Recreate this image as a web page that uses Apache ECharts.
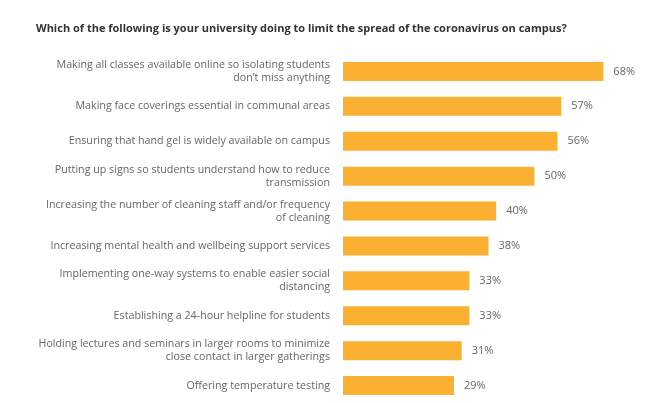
<!DOCTYPE html>
<html><head><meta charset="utf-8">
<script src="https://cdn.jsdelivr.net/npm/echarts@6/dist/echarts.min.js"></script>
<style>html,body{margin:0;padding:0;background:#fff}#c{width:655px;height:403px}</style>
</head><body><div id="c"></div>
<script>
var titleText = 'Which of the following is your university doing to limit the spread of the coronavirus on campus?';
var categories = [
  'Making all classes available online so isolating students\ndon\u2019t miss anything',
  'Making face coverings essential in communal areas',
  'Ensuring that hand gel is widely available on campus',
  'Putting up signs so students understand how to reduce\ntransmission',
  'Increasing the number of cleaning staff and/or frequency\nof cleaning',
  'Increasing mental health and wellbeing support services',
  'Implementing one-way systems to enable easier social\ndistancing',
  'Establishing a 24-hour helpline for students',
  'Holding lectures and seminars in larger rooms to minimize\nclose contact in larger gatherings',
  'Offering temperature testing'
];
var values = [68, 57, 56, 50, 40, 38, 33, 33, 31, 29];
var chart = echarts.init(document.getElementById('c'));
chart.setOption({
  animation: false,
  title: {
    text: titleText, left: 31, top: 18,
    textStyle: {fontFamily: 'Open Sans', fontSize: 11, fontWeight: 'bold', color: '#333'}
  },
  grid: {left: 343, top: 54, height: 350, right: 44},
  xAxis: {type: 'value', min: 0, max: 70, show: false},
  yAxis: {
    type: 'category', data: categories, inverse: true,
    axisLine: {show: false}, axisTick: {show: false},
    axisLabel: {margin: 13, fontFamily: 'Open Sans', fontSize: 10.7, color: '#666', lineHeight: 13, align: 'right'}
  },
  series: [{
    type: 'bar', data: values, barWidth: 19,
    itemStyle: {color: '#FBB031'},
    label: {show: true, position: 'right', distance: 10, formatter: '{c}%',
      fontFamily: 'Open Sans', fontSize: 11, color: '#666'}
  }]
});
</script></body></html>
